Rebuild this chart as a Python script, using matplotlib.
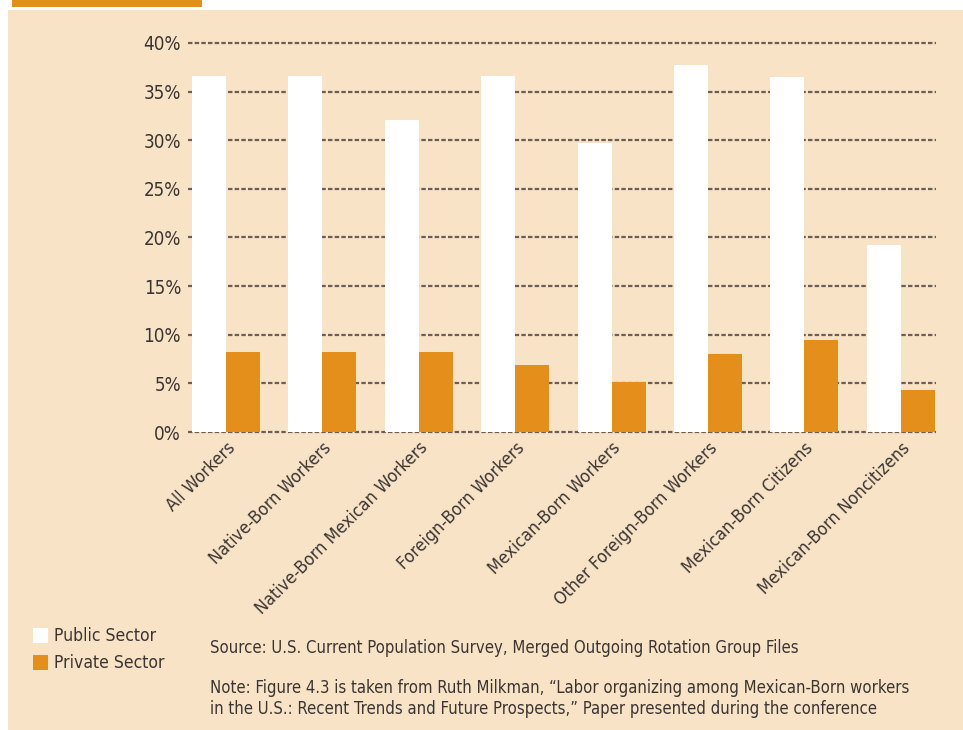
import matplotlib
matplotlib.use("Agg")
import matplotlib.pyplot as plt
from matplotlib.patches import Rectangle
import numpy as np

plt.rcParams["font.family"] = ["DejaVu Sans"]
plt.rcParams["font.stretch"] = "condensed"

categories = [
    "All Workers",
    "Native-Born Workers",
    "Native-Born Mexican Workers",
    "Foreign-Born Workers",
    "Mexican-Born Workers",
    "Other Foreign-Born Workers",
    "Mexican-Born Citizens",
    "Mexican-Born Noncitizens",
]
public_sector = [36.6, 36.6, 32.1, 36.6, 29.7, 37.7, 36.5, 19.2]
private_sector = [8.2, 8.2, 8.2, 6.9, 5.1, 8.0, 9.5, 4.3]
y_ticks = [0, 5, 10, 15, 20, 25, 30, 35, 40]

peach = "#F9E3C7"
orange = "#E48F1B"
grid_col = "#6a5e56"
text_col = "#3a3533"

fig = plt.figure(figsize=(9.63, 7.3), dpi=100)
fig.patch.set_facecolor("white")

# background panel and orange tab at the top
fig.patches.append(Rectangle((8 / 963, 0), 1, 1 - 10 / 730, transform=fig.transFigure,
                             facecolor=peach, edgecolor="none", zorder=-5))
fig.patches.append(Rectangle((12 / 963, 1 - 7 / 730), 190 / 963, 7 / 730,
                             transform=fig.transFigure, facecolor=orange,
                             edgecolor="none", zorder=-5))

ax = fig.add_axes([188 / 963, 1 - 432 / 730, (936 - 188) / 963, (432 - 43) / 730])
ax.set_facecolor("none")

x = np.arange(len(categories))
w = 0.353
ax.bar(x - w / 2, public_sector, w, color="white", zorder=3, label="Public Sector")
ax.bar(x + w / 2, private_sector, w, color=orange, zorder=3, label="Private Sector")

ax.set_xlim(-0.394, 7.365)
ax.set_ylim(0, 40)
ax.set_yticks(y_ticks)
ax.set_yticklabels([f"{t}%" for t in y_ticks], fontsize=13.5, color=text_col)
ax.set_xticks(x)
ax.set_xticklabels(categories, rotation=45, ha="right", rotation_mode="anchor",
                   fontsize=12.8, color=text_col)
ax.tick_params(axis="both", length=0)
ax.tick_params(axis="y", pad=5)
ax.tick_params(axis="x", pad=5)

ax.yaxis.grid(True, color=grid_col, linewidth=1.6, linestyle=(0, (2, 1)), zorder=1)
ax.set_axisbelow(True)
# don't let the top and bottom gridlines get cut in half
for gl in ax.yaxis.get_gridlines():
    gl.set_clip_on(False)
for s in ax.spines.values():
    s.set_visible(False)

# legend drawn by hand
fig.patches.append(Rectangle((33 / 963, 1 - 643 / 730), 15 / 963, 15 / 730,
                             transform=fig.transFigure, facecolor="white",
                             edgecolor="none", zorder=2))
fig.patches.append(Rectangle((33 / 963, 1 - 670 / 730), 15 / 963, 15 / 730,
                             transform=fig.transFigure, facecolor=orange,
                             edgecolor="none", zorder=2))
fig.text(54 / 963, 1 - 636 / 730, "Public Sector", fontsize=12.6, color=text_col, va="center")
fig.text(54 / 963, 1 - 663 / 730, "Private Sector", fontsize=12.6, color=text_col, va="center")

fig.text(210 / 963, 1 - 648 / 730,
         "Source: U.S. Current Population Survey, Merged Outgoing Rotation Group Files",
         fontsize=12, color=text_col, va="center")
fig.text(210 / 963, 1 - 688 / 730,
         "Note: Figure 4.3 is taken from Ruth Milkman, \u201cLabor organizing among Mexican-Born workers",
         fontsize=12, color=text_col, va="center")
fig.text(210 / 963, 1 - 709 / 730,
         "in the U.S.: Recent Trends and Future Prospects,\u201d Paper presented during the conference",
         fontsize=12, color=text_col, va="center")

fig.savefig("out.png", dpi=100, facecolor=fig.get_facecolor())
